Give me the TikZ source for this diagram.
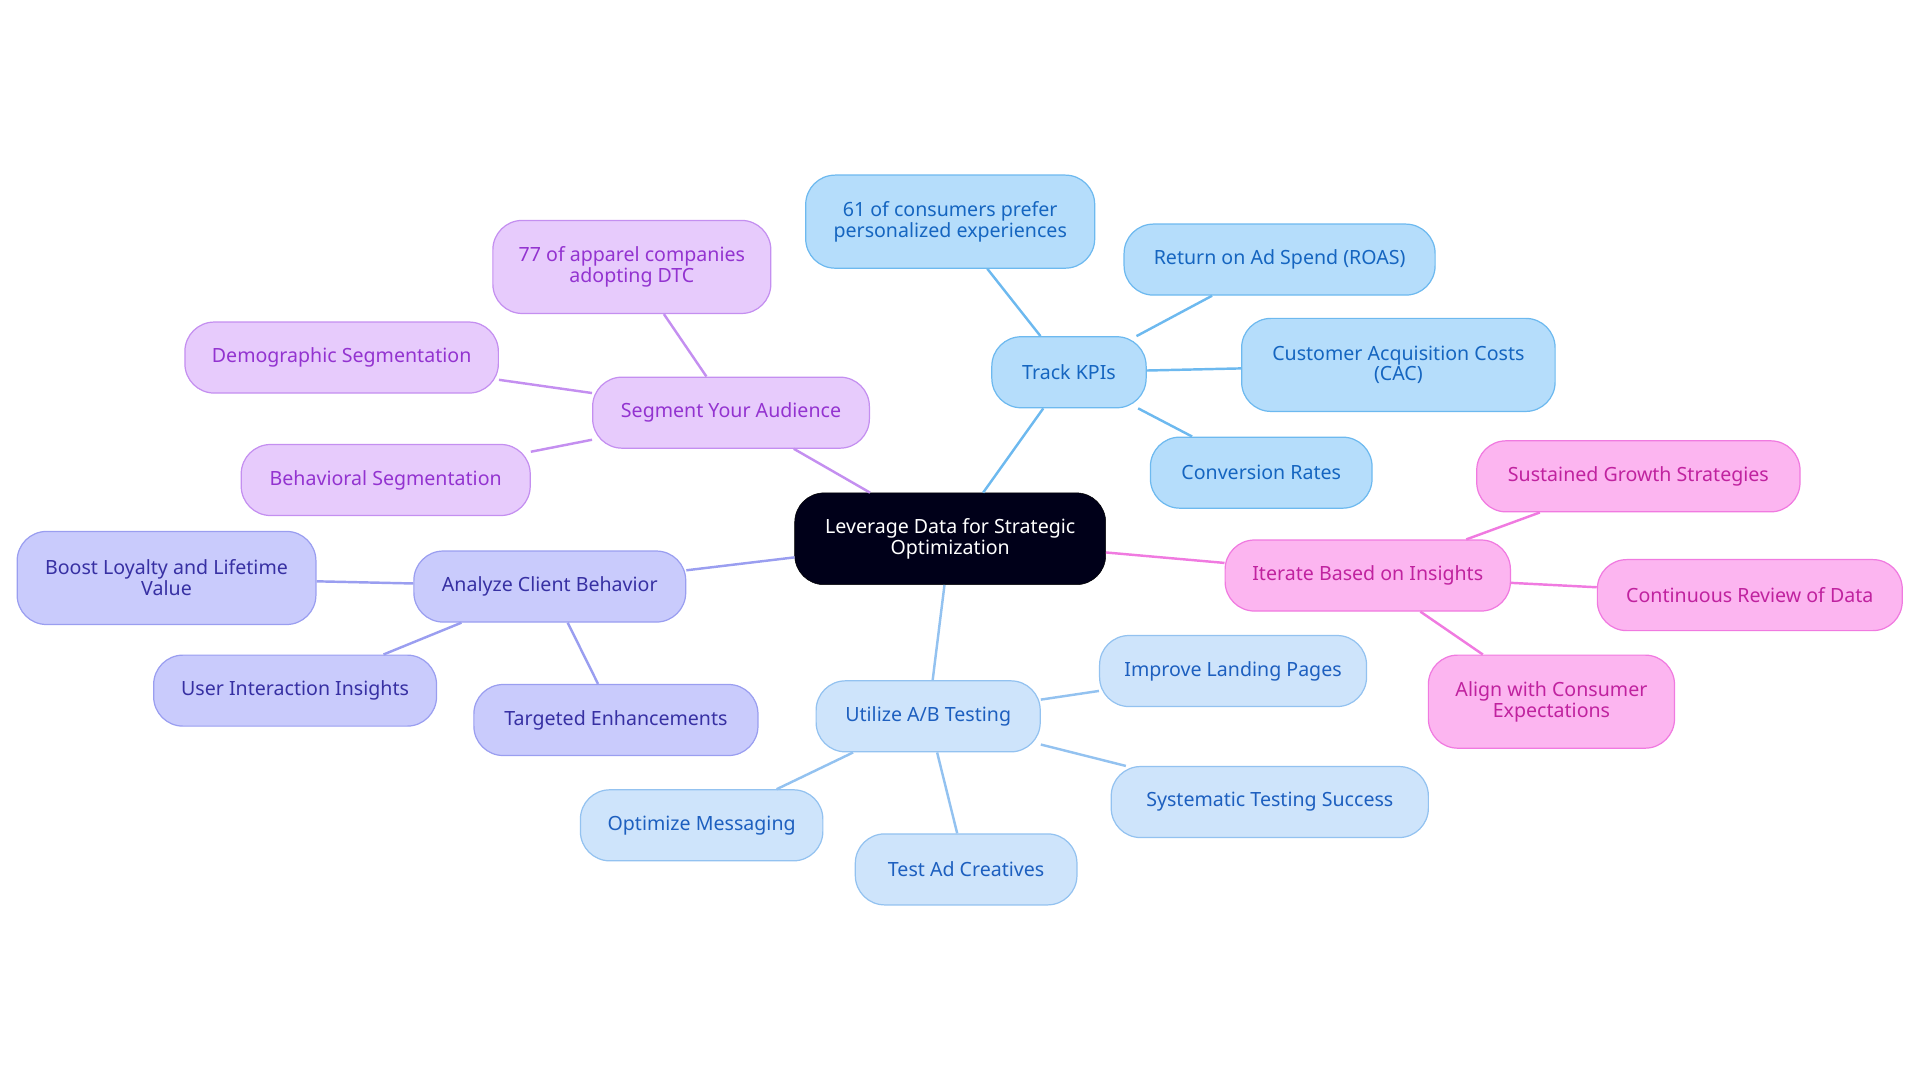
\documentclass[tikz,border=0pt]{standalone}
\usepackage{fontspec}
\setmainfont{Noto Sans}
\definecolor{kf}{HTML}{B5DDFB}\definecolor{kd}{HTML}{6DB9EF}\definecolor{kt}{HTML}{1565C0}
\definecolor{sf}{HTML}{E7CBFC}\definecolor{sd}{HTML}{C48FF0}\definecolor{st}{HTML}{9333D0}
\definecolor{af}{HTML}{C9CBFC}\definecolor{ad}{HTML}{9A9EF0}\definecolor{at}{HTML}{3730A3}
\definecolor{uf}{HTML}{CEE4FB}\definecolor{ud}{HTML}{93C2F0}\definecolor{ut}{HTML}{1D5FBF}
\definecolor{if}{HTML}{FCB5F0}\definecolor{id}{HTML}{F07AE0}\definecolor{it}{HTML}{C0229F}
\begin{document}
\begin{tikzpicture}[x=1pt,y=-1pt,
 box/.style={rounded corners=24pt,draw=#1d,fill=#1f,text=#1t,line width=1pt,align=center,font=\fontsize{16}{17}\selectfont,inner sep=0pt},
 ln/.style={draw=#1d,line width=2pt}]
\useasboundingbox (0,0) rectangle (1568,884);
\newcommand{\bx}[7]{\node[box=#1,minimum width=#5pt,minimum height=#6pt] (#2) at (#3,#4) {#7};}
\node[rounded corners=24pt,fill=black!90!blue,draw=black,text=white,align=center,font=\fontsize{16}{17}\selectfont,minimum width=254pt,minimum height=75pt] (c) at (776,440) {Leverage Data for Strategic\\Optimization};
\bx{k}{k0}{873}{304}{126}{58}{Track KPIs}
\bx{k}{k1}{776}{181}{236}{76}{61 of consumers prefer\\personalized experiences}
\bx{k}{k2}{1045}{212}{254}{58}{Return on Ad Spend (ROAS)}
\bx{k}{k3}{1142}{298}{256}{76}{Customer Acquisition Costs\\(CAC)}
\bx{k}{k4}{1030}{386}{181}{58}{Conversion Rates}
\bx{s}{s0}{597}{337}{226}{58}{Segment Your Audience}
\bx{s}{s1}{516}{218}{227}{76}{77 of apparel companies\\adopting DTC}
\bx{s}{s2}{279}{292}{256}{58}{Demographic Segmentation}
\bx{s}{s3}{315}{392}{236}{58}{Behavioral Segmentation}
\bx{a}{a0}{449}{479}{222}{58}{Analyze Client Behavior}
\bx{a}{a1}{136}{472}{244}{76}{Boost Loyalty and Lifetime\\Value}
\bx{a}{a2}{241}{564}{231}{58}{User Interaction Insights}
\bx{a}{a3}{503}{588}{232}{58}{Targeted Enhancements}
\bx{u}{u0}{758}{585}{183}{58}{Utilize A/B Testing}
\bx{u}{u1}{1007}{548}{218}{58}{Improve Landing Pages}
\bx{u}{u2}{1037}{655}{259}{58}{Systematic Testing Success}
\bx{u}{u3}{789}{710}{181}{58}{Test Ad Creatives}
\bx{u}{u4}{573}{674}{198}{58}{Optimize Messaging}
\bx{i}{i0}{1117}{470}{233}{58}{Iterate Based on Insights}
\bx{i}{i1}{1338}{389}{264}{58}{Sustained Growth Strategies}
\bx{i}{i2}{1429}{486}{249}{58}{Continuous Review of Data}
\bx{i}{i3}{1267}{573}{201}{76}{Align with Consumer\\Expectations}
\begin{scope}[on background layer/.try]
\end{scope}
\begin{pgfonlayer}{main}\end{pgfonlayer}
\foreach \p/\q/\c in {c/k0/k,k0/k1/k,k0/k2/k,k0/k3/k,k0/k4/k,c/s0/s,s0/s1/s,s0/s2/s,s0/s3/s,c/a0/a,a0/a1/a,a0/a2/a,a0/a3/a,c/u0/u,u0/u1/u,u0/u2/u,u0/u3/u,u0/u4/u,c/i0/i,i0/i1/i,i0/i2/i,i0/i3/i}
  \draw[ln=\c] (\p) -- (\q);
\end{tikzpicture}
\end{document}
